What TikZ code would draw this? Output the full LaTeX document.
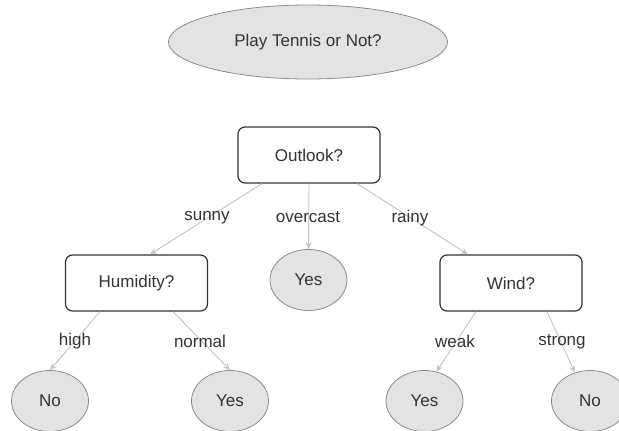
\documentclass[tikz,border=0pt]{standalone}
\usepackage{fontspec}
\setmainfont{Liberation Sans}
\usetikzlibrary{shapes.geometric,arrows.meta}
\definecolor{txt}{HTML}{333333}
\definecolor{leaf}{HTML}{E3E3E3}
\definecolor{rim}{HTML}{8C8C8C}
\definecolor{edge}{HTML}{C4C4C4}
\tikzset{
	question/.style={draw=txt, line width=1.2pt, rounded corners=7pt, fill=white,
		minimum width=142pt, minimum height=56pt, inner sep=0pt, text=txt},
	leafnode/.style={ellipse, draw=rim, line width=0.8pt, fill=leaf,
		minimum width=77pt, minimum height=61pt, inner sep=0pt, text=txt},
	branch/.style={edge, line width=0.9pt, -{Stealth[length=7pt,width=6pt]}},
	choice/.style={text=txt, inner sep=0pt}
}

\begin{document}
\begin{tikzpicture}[x=1pt,y=-1pt,font=\fontsize{17}{20}\selectfont]
			\useasboundingbox (0,0) rectangle (619,431);

			% title
			\node[ellipse, draw=rim, line width=0.8pt, fill=leaf, text=txt,
				minimum width=279pt, minimum height=74pt, inner sep=0pt] (title) at (308,42) {Play Tennis or Not?};

			% questions
			\node[question] (outlook) at (309,155) {Outlook?};
			\node[question] (humidity) at (136.5,283) {Humidity?};
			\node[question] (wind) at (511,283) {Wind?};

			% answers
			\node[leafnode] (yesmid) at (308.5,280) {Yes};
			\node[leafnode] (nohigh) at (50,401) {No};
			\node[leafnode] (yesnormal) at (230,401) {Yes};
			\node[leafnode] (yesweak) at (424.5,401) {Yes};
			\node[leafnode] (nostrong) at (590,401) {No};

			% branches
			\draw[branch] ([xshift=-47pt]outlook.south) -- ([xshift=13.5pt]humidity.north);
			\draw[branch] (outlook.south) -- (yesmid.north);
			\draw[branch] ([xshift=48pt]outlook.south) -- ([xshift=-43pt]wind.north);
			\draw[branch] ([xshift=-36.5pt]humidity.south) -- (nohigh.north);
			\draw[branch] ([xshift=36.5pt]humidity.south) -- (yesnormal.north);
			\draw[branch] ([xshift=-35pt]wind.south) -- (yesweak.68);
			\draw[branch] ([xshift=36pt]wind.south) -- (nostrong.118);

			% branch labels
			\node[choice] (sunny) at (207,218) {sunny};
			\node[choice] (overcast) at (308,217) {overcast};
			\node[choice] (rainy) at (410,218) {rainy};
			\node[choice] (high) at (75,341) {high};
			\node[choice] (normal) at (200,341) {normal};
			\node[choice] (weak) at (455,341) {weak};
			\node[choice] (strong) at (562,342) {strong};
		\end{tikzpicture}
\end{document}
